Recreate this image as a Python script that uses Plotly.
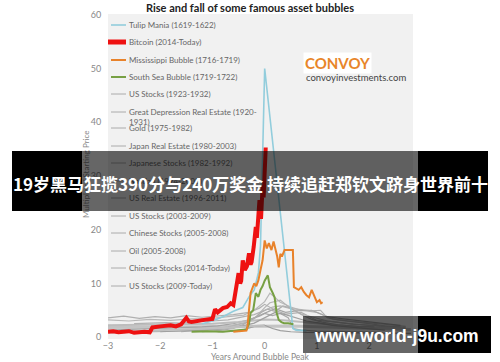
import plotly.graph_objects as go

# ---- series (years around peak, multiple of starting price) ----
tulip_x = [-1.2, -1.0, -0.8, -0.6, -0.42, -0.3, -0.2, -0.12, -0.08, -0.03, 0.0, 0.54, 0.6, 0.8]
tulip_y = [2.5, 3.0, 3.8, 4.8, 5.5, 7.5, 8.8, 12.0, 17.0, 35.0, 50.0, 1.6, 1.3, 1.2]

bitcoin_x = [-3.0, -2.9, -2.8, -2.7, -2.6, -2.5, -2.4, -2.3, -2.2, -2.15, -2.0, -1.9, -1.8, -1.7,
             -1.6, -1.5, -1.45, -1.4, -1.3, -1.2, -1.1, -1.0, -0.95, -0.9, -0.85, -0.8, -0.72,
             -0.65, -0.6, -0.56, -0.5, -0.47, -0.45, -0.42, -0.38, -0.34, -0.3, -0.27, -0.25,
             -0.21, -0.17, -0.15, -0.13, -0.1, -0.07, -0.04, -0.02, 0.0, 0.02]
bitcoin_y = [1.0, 1.1, 0.9, 1.0, 1.1, 0.8, 0.9, 1.0, 0.9, 1.8, 2.0, 2.1, 2.2, 2.0,
             2.4, 3.6, 2.9, 2.8, 3.0, 3.1, 3.3, 3.4, 5.2, 4.6, 5.0, 5.4, 5.6,
             6.3, 6.0, 8.2, 11.9, 10.0, 10.5, 14.3, 12.5, 13.2, 15.6, 13.5, 14.0,
             16.8, 20.5, 18.5, 23.0, 25.5, 22.0, 28.0, 26.0, 33.0, 35.3]

mississippi_x = [-0.6, -0.45, -0.35, -0.33, -0.3, -0.27, -0.24, -0.2, -0.16, -0.12, -0.08, -0.04,
                 0.0, 0.04, 0.08, 0.13, 0.17, 0.2, 0.24, 0.27, 0.3, 0.33, 0.38, 0.46, 0.54, 0.56,
                 0.6, 0.65, 0.7, 0.75, 0.8, 0.85, 0.9, 0.95, 1.0, 1.05, 1.08, 1.11]
mississippi_y = [1.0, 1.1, 1.2, 1.9, 5.0, 8.2, 9.0, 10.0, 9.5, 10.6, 12.5, 14.3,
                 18.0, 16.5, 17.5, 16.2, 17.8, 16.8, 15.0, 13.0, 15.5, 15.0, 16.2, 16.2, 16.2, 9.3,
                 9.0, 8.8, 9.3, 8.4, 7.8, 7.4, 8.8, 7.5, 6.5, 6.9, 6.3, 6.5]

southsea_x = [-1.4, -1.1, -0.8, -0.5, -0.35, -0.3, -0.27, -0.22, -0.17, -0.12, -0.08, -0.04,
              0.0, 0.06, 0.1, 0.15, 0.19, 0.23, 0.27, 0.32, 0.37, 0.45, 0.55]
southsea_y = [1.0, 1.1, 1.0, 1.2, 1.4, 2.5, 4.5, 5.0, 8.2, 7.5, 8.8, 9.5,
              10.5, 11.5, 9.3, 8.3, 7.4, 4.5, 3.2, 2.8, 2.6, 2.6, 2.4]

us1923_x = [-3.0, -2.7, -2.4, -2.1, -1.8, -1.5, -1.2, -0.9, -0.6, -0.3, -0.1, 0.0, 0.2, 0.4, 0.7,
            1.0, 1.3, 1.7, 2.1, 2.4, 2.7]
us1923_y = [3.6, 3.9, 3.5, 3.8, 3.6, 4.0, 3.7, 3.9, 4.2, 4.6, 5.4, 6.1, 5.0, 4.3, 4.6,
            3.1, 2.9, 2.4, 2.2, 2.0, 1.8]

gd_re_x = [-3.0, -2.6, -2.2, -1.8, -1.4, -1.0, -0.7, -0.4, -0.2, 0.0, 0.1, 0.3, 0.5, 0.7, 1.0,
           1.3, 1.6, 2.0, 2.4, 2.7]
gd_re_y = [3.2, 3.0, 3.3, 3.1, 3.4, 3.5, 3.8, 4.1, 5.0, 6.6, 8.2, 6.5, 5.6, 5.0, 4.6,
           3.4, 3.0, 2.7, 2.3, 2.0]

gold_x = [-1.6, -1.3, -1.0, -0.8, -0.6, -0.4, -0.25, -0.1, 0.0, 0.15, 0.3, 0.45, 0.55, 0.7, 1.0,
          1.4, 1.8, 2.2]
gold_y = [1.0, 1.2, 1.5, 1.8, 2.2, 2.6, 3.4, 3.9, 4.4, 4.0, 4.4, 3.6, 1.6, 1.3, 1.1,
          1.0, 0.9, 0.9]

japan_re_x = [-3.0, -2.5, -2.0, -1.5, -1.0, -0.5, 0.0, 0.5, 1.0, 1.5, 2.0, 2.5, 2.8]
japan_re_y = [1.8, 1.85, 1.9, 1.95, 2.0, 2.05, 2.1, 2.05, 1.95, 1.8, 1.6, 1.45, 1.4]

japan_stk_x = [-3.0, -2.7, -2.3, -2.0, -1.6, -1.2, -0.9, -0.6, -0.3, -0.1, 0.0, 0.2, 0.4, 0.6,
               0.9, 1.2, 1.5, 1.9, 2.3, 2.6]
japan_stk_y = [1.3, 1.4, 1.5, 1.5, 1.7, 1.9, 2.1, 2.5, 3.2, 4.0, 4.5, 5.3, 4.6, 4.9,
               5.0, 3.8, 3.4, 2.9, 2.5, 2.2]

nasdaq_x = [-3.0, -2.6, -2.2, -1.8, -1.4, -1.0, -0.7, -0.4, -0.2, 0.0, 0.1, 0.3, 0.5, 0.7, 0.9,
            1.2, 1.6, 2.0, 2.4, 2.7]
nasdaq_y = [0.8, 0.9, 0.9, 1.0, 1.2, 1.5, 1.9, 2.6, 3.4, 5.5, 6.4, 6.9, 5.3, 4.3, 3.8,
            3.0, 2.5, 2.2, 1.8, 1.6]

us_re_x = [-3.0, -2.5, -2.0, -1.5, -1.0, -0.5, -0.2, 0.0, 0.3, 0.6, 1.0, 1.4, 1.8, 2.2, 2.6]
us_re_y = [2.2, 2.3, 2.3, 2.4, 2.5, 2.8, 3.1, 3.3, 3.2, 2.9, 2.5, 2.2, 1.9, 1.7, 1.6]

us0309_x = [-2.0, -1.6, -1.2, -0.8, -0.5, -0.2, 0.0, 0.2, 0.4, 0.6, 0.8, 1.0, 1.3, 1.7, 2.0, 2.3]
us0309_y = [1.0, 1.1, 1.3, 1.5, 1.9, 2.6, 3.6, 4.6, 4.2, 3.6, 3.0, 2.7, 2.2, 1.8, 1.5, 1.3]

cn0508_x = [-1.2, -1.0, -0.8, -0.6, -0.4, -0.2, -0.05, 0.05, 0.2, 0.35, 0.5, 0.7, 0.9, 1.1, 1.4,
            1.8, 2.1]
cn0508_y = [1.0, 1.1, 1.3, 1.6, 2.4, 3.5, 4.7, 5.2, 4.8, 5.8, 5.4, 4.2, 3.3, 2.8, 2.3,
            2.0, 1.9]

oil_x = [-2.5, -2.2, -1.9, -1.6, -1.3, -1.0, -0.7, -0.4, -0.2, 0.0, 0.15, 0.3, 0.5, 0.7, 0.9,
         1.07, 1.2, 1.4, 1.7, 2.0, 2.3, 2.6]
oil_y = [2.5, 2.6, 2.7, 2.6, 2.9, 3.0, 3.2, 3.8, 4.2, 5.0, 5.6, 5.8, 5.3, 5.1, 4.9,
         5.0, 3.6, 3.2, 2.9, 2.5, 2.1, 1.9]

cn14_x = [-0.9, -0.6, -0.4, -0.2, 0.0, 0.15, 0.3, 0.5, 0.8, 1.2, 1.6, 2.0, 2.4, 2.8]
cn14_y = [1.0, 1.1, 1.4, 2.0, 2.2, 1.6, 1.2, 1.0, 0.9, 0.85, 0.8, 0.8, 0.75, 0.7]

us0914_x = [-3.0, -2.6, -2.2, -1.8, -1.4, -1.0, -0.6, -0.3, 0.0]
us0914_y = [1.0, 1.1, 1.2, 1.3, 1.4, 1.6, 1.8, 2.0, 2.2]

legend_names = [
    "Tulip Mania (1619-1622)", "Bitcoin (2014-Today)", "Mississippi Bubble (1716-1719)",
    "South Sea Bubble (1719-1722)", "US Stocks (1923-1932)",
    "Great Depression Real Estate (1920-", "Gold (1975-1982)", "Japan Real Estate (1980-2003)",
    "Japanese Stocks (1982-1992)", "Nasdaq (1994-2002)", "US Real Estate (1996-2011)",
    "US Stocks (2003-2009)", "Chinese Stocks (2005-2008)", "Oil (2005-2008)",
    "Chinese Stocks (2014-Today)", "US Stocks (2009-Today)",
]

x_ticks = [-3, -2, -1, 0, 1, 2]
y_ticks = [0, 10, 20, 30, 40, 50, 60]

TULIP, BTC, MISS, SSEA = "#92cddc", "#ee1111", "#e8822a", "#77a043"
GREY = "#aaaaaa"
LEGEND_FONT = dict(family="Lato", size=8, color="#666666")
AXIS_FONT = dict(family="Lato", size=8.5, color="#888888")

fig = go.Figure()

gray_series = [
    (us1923_x, us1923_y, "#b0b0b0", 1.2),
    (gd_re_x, gd_re_y, "#b8b8b8", 1.2),
    (gold_x, gold_y, "#a8a8a8", 1.2),
    (japan_re_x, japan_re_y, "#c4c4c4", 3.0),
    (japan_stk_x, japan_stk_y, "#a4a4a4", 1.2),
    (nasdaq_x, nasdaq_y, "#b4b4b4", 1.2),
    (us_re_x, us_re_y, "#bdbdbd", 2.0),
    (us0309_x, us0309_y, "#a0a0a0", 1.2),
    (cn0508_x, cn0508_y, "#acacac", 1.2),
    (oil_x, oil_y, "#b2b2b2", 1.2),
    (cn14_x, cn14_y, "#9c9c9c", 1.2),
    (us0914_x, us0914_y, "#c0c0c0", 2.0),
]
for gx, gy, col, w in gray_series:
    fig.add_trace(go.Scatter(x=gx, y=gy, mode="lines", line=dict(color=col, width=w),
                             showlegend=False, hoverinfo="skip"))

fig.add_trace(go.Scatter(x=tulip_x, y=tulip_y, mode="lines", line=dict(color=TULIP, width=1.6),
                         showlegend=False))
fig.add_trace(go.Scatter(x=southsea_x, y=southsea_y, mode="lines", line=dict(color=SSEA, width=2),
                         showlegend=False))
fig.add_trace(go.Scatter(x=mississippi_x, y=mississippi_y, mode="lines",
                         line=dict(color=MISS, width=2), showlegend=False))
fig.add_trace(go.Scatter(x=bitcoin_x, y=bitcoin_y, mode="lines", line=dict(color=BTC, width=4),
                         showlegend=False))

# plot-area pixel box, used to place paper-referenced items
PL, PR, PT, PB = 108, 413, 14, 339


def px(xp):
    return (xp - PL) / (PR - PL)


def py(yp):
    return (PB - yp) / (PB - PT)


def label(text, x, y, font, xanchor="left", **kw):
    annotations.append(dict(text=text, xref="paper", yref="paper", x=px(x), y=py(y),
                            xanchor=xanchor, yanchor="middle", showarrow=False, font=font, **kw))


shapes = []
annotations = []

# chart title and axis titles
label("<b>Rise and fall of some famous asset bubbles</b>", 250, 7,
      dict(family="Lato", size=11, color="#222222"), xanchor="center")
label("Years Around Bubble Peak", 260, 357, AXIS_FONT, xanchor="center")
label("Multiple of Starting Price", 86, 175, dict(family="Lato", size=8, color="#888888"),
      xanchor="center", textangle=-90)

# hand-built legend in the upper left corner of the plot
legend_rows = [25, 42, 60, 77, 94, 112, 128, 146, 163, 181, 198, 216, 233, 251, 268, 286]
legend_cols = [TULIP, BTC, MISS, SSEA] + [GREY] * 12
legend_w = [1.6, 5, 2, 2] + [1] * 12
for name, row, col, w in zip(legend_names, legend_rows, legend_cols, legend_w):
    x0 = 108 if col == BTC else 111
    shapes.append(dict(type="line", xref="paper", yref="paper", x0=px(x0), x1=px(126),
                       y0=py(row), y1=py(row), line=dict(color=col, width=w)))
    label(name, 127, row, LEGEND_FONT)
label("1931)", 127, 122, LEGEND_FONT)

# Convoy logo
label("<b>CONVOY</b>", 303, 63, dict(family="Lato", size=15, color="#e8862a"),
      bgcolor="#ffffff", borderpad=1)
label("convoyinvestments.com", 304, 77, dict(family="Lato", size=9.5, color="#444444"))


def band(x0, x1, y0, y1, color):
    annotations.append(dict(text=" ", xref="paper", yref="paper", x=px(x0), y=py(y0),
                            xanchor="left", yanchor="top", showarrow=False,
                            width=x1 - x0, height=y1 - y0, bgcolor=color,
                            borderpad=0, borderwidth=0, font=dict(size=1)))


# headline caption band
band(12, 82, 151, 211, "#000000")
band(82, 418, 151, 211, "rgba(0,0,0,0.6)")
band(418, 488, 151, 211, "#000000")
label("<b>19岁黑马狂揽390分与240万奖金 持续追赶郑钦文跻身世界前十</b>", 250, 184,
      dict(family="Noto Sans CJK SC", size=17, color="#ffffff"), xanchor="center")

# site caption band
band(303, 418, 316, 353, "rgba(0,0,0,0.6)")
band(418, 491, 316, 353, "#000000")
label("<b>www.world-j9u.com</b>", 396, 336,
      dict(family="Liberation Sans", size=17.5, color="#ffffff"), xanchor="center")

fig.update_layout(
    width=500, height=362,
    margin=dict(l=PL, r=500 - PR, t=PT, b=362 - PB),
    paper_bgcolor="#ffffff", plot_bgcolor="#f1f1f1",
    xaxis=dict(range=[-3, 2.84], tickvals=x_ticks, showgrid=False, zeroline=False,
               showline=False, ticks="", automargin=False,
               tickfont=dict(family="Lato", size=9, color="#888888")),
    yaxis=dict(range=[-0.35, 60.15], tickvals=y_ticks, showgrid=False, zeroline=False,
               showline=False, ticks="outside", ticklen=4, tickcolor="rgba(0,0,0,0)",
               automargin=False, tickfont=dict(family="Lato", size=9, color="#888888")),
    shapes=shapes,
    annotations=annotations,
    showlegend=False,
)

fig.write_html("out.html")
